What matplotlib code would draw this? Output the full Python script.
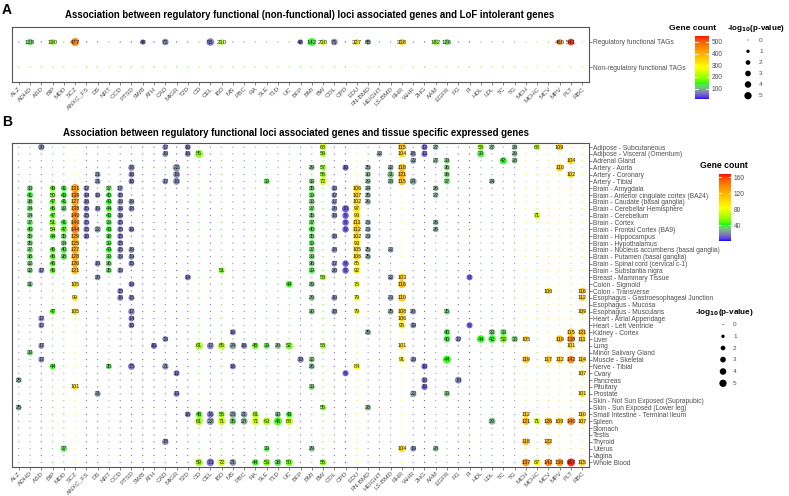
import numpy as np
import matplotlib
matplotlib.use("Agg")
import matplotlib.pyplot as plt
from matplotlib.colors import ListedColormap, Normalize
import matplotlib.colorbar as mcolorbar

plt.rcParams['font.family'] = ['Liberation Sans', 'DejaVu Sans']

# ---------------- data ----------------
traits = ["ALZ", "ADHD", "ASD", "BIP", "MDD", "SCZ", "ANXC_FS", "DS", "NRT", "OCD", "PTSD", "SWB",
          "ATH", "CAD", "MIGR", "T2D", "CD", "CEL", "IBD", "MS", "PBC", "RA", "SLE", "T1D", "UC",
          "BFP", "BMI", "BW", "COL", "CPD", "EDU", "FN-BMD", "HEIGHT", "LS-BMD", "RHR", "WHR",
          "2HG", "AAM", "EGFR", "FG", "FI", "HDL", "LDL", "TC", "TG", "MCH", "MCHC", "MCV", "MPV",
          "PLT", "RBC"]

a_rows = ["Regulatory functional TAGs", "Non-regulatory functional TAGs"]
# background (non-significant) gene counts per trait, panel A
a_bg_reg = [60, 100, 40, 150, 120, 400, 30, 50, 110, 40, 40, 40, 30, 60, 40, 40, 170, 45, 180, 70,
            60, 150, 130, 110, 150, 40, 120, 200, 60, 30, 280, 70, 60, 70, 300, 50, 30, 150, 110,
            40, 30, 130, 90, 110, 100, 380, 230, 420, 400, 470, 380]
a_bg_non = [180, 200, 170, 210, 200, 260, 160, 170, 200, 160, 170, 170, 160, 180, 170, 170, 210, 170,
            220, 180, 180, 210, 200, 200, 210, 170, 200, 220, 180, 160, 240, 190, 180, 190, 250, 180,
            160, 210, 200, 170, 160, 200, 190, 200, 200, 300, 240, 320, 330, 380, 300]
# significant cells, regulatory row
a_sig_traits = ["ADHD", "BIP", "SCZ", "SWB", "CAD", "CEL", "IBD", "BFP", "BMI", "BW", "COL", "EDU",
                "FN-BMD", "RHR", "AAM", "EGFR", "MPV", "PLT"]
a_sig_counts = [128, 190, 477, 48, 73, 55, 210, 46, 142, 230, 71, 327, 85, 338, 182, 126, 460, 541]
a_sig_logp = [4.2, 3.3, 6.0, 2.5, 4.2, 5.4, 2.9, 2.5, 6.2, 3.3, 4.2, 3.3, 2.9, 4.2, 3.3, 3.3, 3.3, 4.2]

tissues = ["Adipose - Subcutaneous", "Adipose - Visceral (Omentum)", "Adrenal Gland", "Artery - Aorta",
           "Artery - Coronary", "Artery - Tibial", "Brain - Amygdala",
           "Brain - Anterior cingulate cortex (BA24)", "Brain - Caudate (basal ganglia)",
           "Brain - Cerebellar Hemisphere", "Brain - Cerebellum", "Brain - Cortex",
           "Brain - Frontal Cortex (BA9)", "Brain - Hippocampus", "Brain - Hypothalamus",
           "Brain - Nucleus accumbens (basal ganglia)", "Brain - Putamen (basal ganglia)",
           "Brain - Spinal cord (cervical c-1)", "Brain - Substantia nigra", "Breast - Mammary Tissue",
           "Colon - Sigmoid", "Colon - Transverse", "Esophagus - Gastroesophageal Junction",
           "Esophagus - Mucosa", "Esophagus - Muscularis", "Heart - Atrial Appendage",
           "Heart - Left Ventricle", "Kidney - Cortex", "Liver", "Lung", "Minor Salivary Gland",
           "Muscle - Skeletal", "Nerve - Tibial", "Ovary", "Pancreas", "Pituitary", "Prostate",
           "Skin - Not Sun Exposed (Suprapubic)", "Skin - Sun Exposed (Lower leg)",
           "Small Intestine - Terminal Ileum", "Spleen", "Stomach", "Testis", "Thyroid", "Uterus",
           "Vagina", "Whole Blood"]

# background (non-significant) gene counts per trait, panel B
b_bg = [20, 25, 12, 35, 30, 90, 10, 14, 30, 11, 11, 10, 8, 13, 10, 10, 40, 12, 45, 17, 15, 35, 30, 25,
        35, 12, 25, 45, 12, 7, 70, 18, 15, 18, 85, 14, 8, 20, 28, 10, 7, 30, 20, 25, 22, 95, 55, 95,
        90, 110, 95]

# significant cells per tissue (same order as tissues)
b_traits = [
    ["ASD", "CAD", "T2D", "BW", "RHR", "2HG", "AAM", "HDL", "LDL", "TG", "MCHC", "MPV"],
    ["CAD", "T2D", "CD", "BW", "HEIGHT", "RHR", "WHR", "2HG", "HDL", "TG"],
    ["WHR", "AAM", "EGFR", "TC", "TG", "PLT"],
    ["PTSD", "MIGR", "BMI", "BW", "CPD", "FN-BMD", "LS-BMD", "RHR", "EGFR", "MPV"],
    ["DS", "PTSD", "MIGR", "BW", "FN-BMD", "LS-BMD", "RHR", "EGFR", "PLT"],
    ["DS", "PTSD", "CAD", "MIGR", "SLE", "BMI", "BW", "FN-BMD", "LS-BMD", "RHR", "WHR", "EGFR", "LDL"],
    ["ADHD", "BIP", "MDD", "SCZ", "ANXC_FS", "NRT", "OCD", "BMI", "COL", "EDU", "FN-BMD", "AAM"],
    ["ADHD", "BIP", "MDD", "SCZ", "ANXC_FS", "DS", "NRT", "OCD", "BMI", "COL", "EDU", "FN-BMD", "AAM"],
    ["ADHD", "BIP", "MDD", "SCZ", "ANXC_FS", "NRT", "OCD", "PTSD", "BMI", "COL", "EDU", "FN-BMD"],
    ["ADHD", "BIP", "MDD", "SCZ", "ANXC_FS", "DS", "NRT", "OCD", "PTSD", "BMI", "COL", "CPD", "EDU"],
    ["ADHD", "BIP", "SCZ", "ANXC_FS", "NRT", "OCD", "BMI", "COL", "CPD", "EDU", "MCHC"],
    ["ADHD", "BIP", "MDD", "SCZ", "ANXC_FS", "NRT", "OCD", "BMI", "CPD", "EDU", "FN-BMD", "AAM"],
    ["ADHD", "BIP", "MDD", "SCZ", "ANXC_FS", "DS", "NRT", "OCD", "PTSD", "BMI", "CPD", "EDU", "FN-BMD", "AAM"],
    ["ADHD", "BIP", "MDD", "SCZ", "ANXC_FS", "NRT", "OCD", "BMI", "COL", "EDU", "FN-BMD"],
    ["ADHD", "MDD", "SCZ", "NRT", "OCD", "BMI", "EDU"],
    ["ADHD", "BIP", "MDD", "SCZ", "NRT", "OCD", "PTSD", "BMI", "COL", "EDU", "FN-BMD", "LS-BMD"],
    ["ADHD", "BIP", "MDD", "SCZ", "NRT", "OCD", "PTSD", "BMI", "EDU", "FN-BMD"],
    ["ADHD", "BIP", "SCZ", "DS", "NRT", "PTSD", "BMI", "COL", "CPD", "EDU"],
    ["ADHD", "ASD", "BIP", "SCZ", "NRT", "OCD", "IBD", "BMI", "COL", "CPD", "EDU"],
    ["DS", "T2D", "BW", "LS-BMD", "RHR", "FI"],
    ["ADHD", "SCZ", "PTSD", "UC", "BMI", "EDU", "RHR"],
    ["OCD", "MCV", "RBC"],
    ["SCZ", "OCD", "PTSD", "BMI", "COL", "EDU", "LS-BMD", "RHR", "RBC"],
    [],
    ["BIP", "SCZ", "PTSD", "BMI", "COL", "EDU", "LS-BMD", "RHR", "WHR", "EGFR", "RBC"],
    ["ASD", "PTSD", "RHR"],
    ["ASD", "PTSD", "RHR", "WHR", "FI"],
    ["MS", "FN-BMD", "EGFR", "LDL", "TC", "PLT", "RBC"],
    ["CAD", "EGFR", "FG", "HDL", "LDL", "TC", "TG", "MCH", "MPV", "PLT", "RBC"],
    ["ASD", "ATH", "CD", "CEL", "IBD", "MS", "PBC", "RA", "SLE", "T1D", "UC", "BW", "RHR", "PLT"],
    ["ADHD"],
    ["ASD", "BFP", "BMI", "RHR", "WHR", "EGFR", "MCH", "MCV", "MPV", "PLT", "RBC"],
    ["BIP", "NRT", "PTSD", "CAD", "MS", "BMI", "EDU", "2HG"],
    ["MIGR", "CPD", "RBC"],
    ["ALZ", "2HG", "FG"],
    ["SCZ", "BMI", "2HG"],
    ["DS", "MIGR", "WHR", "EGFR", "RBC"],
    [],
    ["ALZ", "BW", "FN-BMD"],
    ["T2D", "CD", "CEL", "IBD", "MS", "PBC", "RA", "T1D", "UC", "MCH", "RBC"],
    ["CD", "CEL", "IBD", "MS", "PBC", "RA", "SLE", "T1D", "UC", "LDL", "MCH", "MCHC", "MCV", "MPV", "PLT", "RBC"],
    [],
    [],
    ["CAD", "MCH", "MCV"],
    ["MDD", "SLE", "BMI", "RHR", "WHR", "AAM"],
    [],
    ["CD", "CEL", "IBD", "MS", "RA", "SLE", "T1D", "UC", "BW", "MCH", "MCHC", "MCV", "MPV", "PLT", "RBC"],
]
b_counts = [
    [20, 17, 16, 68, 115, 12, 27, 58, 27, 28, 68, 109],
    [19, 16, 55, 59, 22, 104, 18, 12, 39, 29],
    [22, 27, 33, 42, 28, 104],
    [18, 22, 29, 57, 10, 25, 22, 118, 36, 110],
    [21, 16, 19, 56, 30, 31, 121, 36, 102],
    [21, 16, 17, 19, 39, 33, 72, 29, 28, 115, 24, 37, 24],
    [33, 49, 41, 131, 17, 37, 17, 35, 19, 106, 24, 26],
    [41, 50, 43, 139, 14, 19, 40, 15, 39, 17, 107, 25, 27],
    [38, 47, 41, 127, 16, 43, 19, 19, 33, 17, 102, 26],
    [34, 46, 32, 138, 15, 19, 44, 16, 18, 37, 20, 10, 97],
    [34, 47, 140, 15, 42, 16, 35, 18, 9, 93, 71],
    [37, 51, 41, 140, 15, 39, 15, 37, 9, 111, 23, 26],
    [40, 54, 47, 144, 15, 22, 43, 15, 16, 40, 9, 112, 23, 26],
    [35, 44, 35, 129, 16, 38, 15, 35, 18, 102, 23],
    [35, 34, 125, 39, 15, 39, 93],
    [37, 46, 40, 127, 43, 15, 19, 37, 18, 105, 25, 22],
    [38, 46, 38, 128, 39, 19, 19, 33, 106, 25],
    [32, 46, 126, 18, 36, 15, 36, 17, 9, 85],
    [32, 17, 46, 121, 35, 19, 51, 39, 20, 9, 92],
    [20, 14, 58, 22, 103, 9],
    [31, 105, 14, 44, 29, 75, 116],
    [15, 106, 116],
    [99, 16, 15, 29, 19, 79, 23, 110, 112],
    [],
    [47, 105, 17, 30, 18, 79, 25, 108, 20, 35, 109],
    [17, 14, 106],
    [17, 16, 95, 19, 9],
    [16, 25, 40, 33, 39, 115, 121],
    [19, 40, 17, 44, 42, 52, 33, 105, 119, 138, 111],
    [17, 10, 61, 17, 65, 24, 16, 48, 39, 29, 52, 58, 101, 101],
    [33],
    [17, 19, 32, 91, 19, 44, 119, 117, 112, 142, 114],
    [44, 35, 15, 21, 16, 26, 84, 10],
    [12, 9, 107],
    [25, 16, 18],
    [101, 33, 10],
    [21, 13, 22, 33, 101],
    [],
    [25, 55, 28],
    [16, 46, 16, 56, 23, 21, 61, 30, 43, 112, 110],
    [61, 22, 71, 35, 28, 71, 63, 46, 68, 29, 121, 71, 126, 109, 140, 107],
    [],
    [],
    [18, 118, 122],
    [37, 39, 29, 104, 19, 28],
    [],
    [59, 13, 72, 21, 44, 53, 38, 50, 55, 137, 87, 142, 136, 167, 115],
]
b_logp = [
    [4, 3.3, 3.3, 4.5, 5.5, 3.5, 3, 4, 3, 3, 3.5, 4.5],
    [3.3, 3.3, 6, 3.5, 3, 4.5, 3.3, 3.5, 5, 3],
    [3.3, 3, 3, 5, 3, 4.5],
    [4, 5.5, 3, 3.5, 3.5, 3, 3, 5.5, 3, 5],
    [3.3, 3.3, 4.5, 3.5, 3, 4.5, 6, 3, 4.5],
    [3.3, 3.3, 3.3, 4.5, 3.5, 3, 5, 3, 3.5, 5.5, 4.5, 3.5, 3],
    [3.3, 3.3, 3.3, 7, 3.3, 3.3, 3.3, 3.3, 3.3, 5.5, 3, 3],
    [4, 3.3, 3.3, 5.5, 3, 3, 3.3, 3, 3.5, 3, 5, 3, 3],
    [3.3, 3.3, 3.3, 5.5, 3.3, 3.3, 3.3, 3.3, 3.3, 3, 5, 3],
    [3.3, 3.3, 3.3, 5.5, 3.3, 3.3, 3.3, 3.3, 3.3, 3.3, 3.3, 5, 5],
    [3.3, 3.3, 6, 3.3, 3.3, 3.3, 3.3, 3.3, 4, 5, 4],
    [3.3, 4, 4, 6.5, 3.3, 3.3, 3.3, 3.3, 4, 5.5, 3, 3],
    [4, 3.5, 4, 6.5, 3.3, 4, 3.3, 3.3, 3.3, 4, 4, 5.5, 3, 3],
    [3.3, 3.3, 3.3, 5.5, 3.3, 3.3, 3.3, 3.3, 3.3, 4.5, 3],
    [3.3, 3.3, 6, 3.3, 3.3, 3.3, 5],
    [3.3, 3.3, 4, 6, 3.3, 3.3, 3.3, 3.3, 3.3, 4.5, 3, 3],
    [3.3, 3.3, 4, 5.5, 3.3, 3.3, 3.3, 3.3, 4.5, 3],
    [3.3, 3.3, 5.5, 3.3, 3.3, 3.3, 3.3, 3.3, 4, 4],
    [3.3, 3.3, 3.3, 5.5, 3.3, 3.3, 3.3, 4, 3.3, 4, 4.5],
    [3.3, 3.3, 3.3, 3.3, 4.5, 3.5],
    [3.3, 4, 3.3, 4, 3.3, 3.3, 6],
    [3.3, 4, 4],
    [3.3, 3.3, 3.3, 3.3, 3.3, 3.3, 3.3, 5.5, 3.5],
    [],
    [3.3, 4, 4, 3.3, 3.3, 3.3, 3.3, 5, 3.3, 3.3, 3.5],
    [3.3, 3.3, 4],
    [3.3, 3.3, 4, 3.3, 3.5],
    [3.3, 3.3, 4, 4, 4, 5, 5],
    [3.3, 4.5, 3.3, 5.5, 5.5, 5.5, 4, 3.5, 5, 5.5, 4],
    [3.3, 3.5, 5.5, 4.5, 5, 4.5, 3.5, 4, 3.5, 3.5, 5, 3.3, 4, 4],
    [3.3],
    [3.3, 4, 3.3, 3.5, 3.3, 6, 4.5, 4.5, 4.5, 5.5, 4],
    [3.3, 3.3, 4.5, 4, 3.3, 3.3, 4, 3.5],
    [3.3, 3.5, 3.5],
    [3.3, 3.5, 4.5],
    [3.3, 3.3, 3.5],
    [3.5, 3.3, 4, 3.3, 4],
    [],
    [3.3, 3.3, 3.3],
    [3.3, 4, 4.5, 4, 4.5, 4, 4.5, 3.3, 3.3, 3.5, 3.5],
    [5.5, 5.5, 5.5, 4.5, 4.5, 5.5, 5.5, 6.5, 5.5, 4.5, 5, 4, 5, 4.5, 5.5, 4],
    [],
    [],
    [4, 4.5, 4],
    [4, 3.3, 3.3, 4.5, 3.3, 3.3],
    [],
    [5.5, 5.5, 5, 4.5, 4, 5, 5, 5, 4, 5.5, 5, 5.5, 5.5, 6, 4.5],
]

a_cbar_ticks = [100, 200, 300, 400, 500]
b_cbar_ticks = [40, 80, 120, 160]
size_legend = [0, 1, 2, 3, 4, 5]

# ---------------- colour map (CIELAB interpolation like ggplot) ----------------
def _srgb_to_lab(rgb):
    rgb = np.asarray(rgb, float)
    lin = np.where(rgb <= 0.04045, rgb / 12.92, ((rgb + 0.055) / 1.055) ** 2.4)
    M = np.array([[0.4124, 0.3576, 0.1805], [0.2126, 0.7152, 0.0722], [0.0193, 0.1192, 0.9505]])
    xyz = M @ lin / np.array([0.95047, 1.0, 1.08883])
    d = 6 / 29
    f = np.where(xyz > d ** 3, np.cbrt(xyz), xyz / (3 * d * d) + 4 / 29)
    return np.array([116 * f[1] - 16, 500 * (f[0] - f[1]), 200 * (f[1] - f[2])])

def _lab_to_srgb(lab):
    L, a, b = lab
    d = 6 / 29
    fy = (L + 16) / 116
    fx = fy + a / 500
    fz = fy - b / 200
    f = np.array([fx, fy, fz])
    xyz = np.where(f > d, f ** 3, 3 * d * d * (f - 4 / 29)) * np.array([0.95047, 1.0, 1.08883])
    Minv = np.linalg.inv(np.array([[0.4124, 0.3576, 0.1805], [0.2126, 0.7152, 0.0722],
                                   [0.0193, 0.1192, 0.9505]]))
    lin = np.clip(Minv @ xyz, 0, 1)
    rgb = np.where(lin <= 0.0031308, 12.92 * lin, 1.055 * lin ** (1 / 2.4) - 0.055)
    return np.clip(rgb, 0, 1)

stops = [(0, 0, 1), (0, 1, 0), (1, 1, 0), (1, 0.647, 0), (1, 0, 0)]
labs = [_srgb_to_lab(c) for c in stops]
cols = []
for t in np.linspace(0, 1, 256):
    seg = min(int(t * 4), 3)
    u = t * 4 - seg
    cols.append(_lab_to_srgb(labs[seg] * (1 - u) + labs[seg + 1] * u))
cmap = ListedColormap(cols)

def sz(v):
    return 0.5184 * (1 + 10.4 * np.asarray(v, float))

# ---------------- figure ----------------
W, H = 789, 496
fig = plt.figure(figsize=(W / 100, H / 100), dpi=100)

def rect(l, t, r, b):
    return [l / W, 1 - b / H, (r - l) / W, (b - t) / H]

GRAY = "#4d4d4d"
SP = "#555555"

def style_axes(ax):
    for s in ax.spines.values():
        s.set_color(SP)
        s.set_linewidth(0.8)
    ax.set_facecolor("white")
    ax.tick_params(axis='both', length=2, width=0.5, color=SP, pad=1)
    ax.set_xticks(range(len(traits)))
    ax.set_xticklabels(traits, rotation=45, ha='right', rotation_mode='anchor',
                       fontsize=4.6, color=GRAY)
    ax.set_xlim(-0.6, len(traits) - 0.4)
    ax.yaxis.tick_right()

# ---- Panel A ----
normA = Normalize(vmin=10, vmax=551)
axA = fig.add_axes(rect(12, 27, 589, 82))
style_axes(axA)
xs = np.arange(len(traits))
axA.scatter(xs, np.zeros(len(traits)), s=sz(0) * 1.6, c=a_bg_reg, cmap=cmap, norm=normA,
            linewidths=0, zorder=2)
axA.scatter(xs, np.ones(len(traits)), s=sz(0) * 1.6, c=a_bg_non, cmap=cmap, norm=normA,
            linewidths=0, zorder=2)
ax_idx = [traits.index(t) for t in a_sig_traits]
axA.scatter(ax_idx, np.zeros(len(ax_idx)), s=sz(a_sig_logp), c=a_sig_counts, cmap=cmap,
            norm=normA, linewidths=0, alpha=0.9, zorder=3)
for xi, cnt in zip(ax_idx, a_sig_counts):
    axA.text(xi, 0, str(cnt), ha='center', va='center', fontsize=4.3, color="#222222", zorder=4)
axA.set_ylim(1.6, -0.6)
axA.set_yticks([0, 1])
axA.set_yticklabels(a_rows, fontsize=4.8, color=GRAY)

# ---- Panel B ----
normB = Normalize(vmin=1, vmax=168)
axB = fig.add_axes(rect(12, 143, 589, 466.5))
style_axes(axB)
nT = len(tissues)
gx, gy = np.meshgrid(np.arange(len(traits)), np.arange(nT))
bgc = np.tile(np.array(b_bg, float), (nT, 1))
axB.scatter(gx.ravel(), gy.ravel(), s=sz(0) * 1.4, c=bgc.ravel(), cmap=cmap, norm=normB,
            linewidths=0, zorder=2)
px, py, pc, pl = [], [], [], []
for ti in range(nT):
    for tr, cnt, lp in zip(b_traits[ti], b_counts[ti], b_logp[ti]):
        px.append(traits.index(tr)); py.append(ti); pc.append(cnt); pl.append(lp)
axB.scatter(px, py, s=sz(pl), c=pc, cmap=cmap, norm=normB, linewidths=0, alpha=0.9, zorder=3)
for x_, y_, c_ in zip(px, py, pc):
    axB.text(x_, y_, str(c_), ha='center', va='center', fontsize=4.0, color="#222222", zorder=4)
axB.set_ylim(nT - 0.4, -0.6)
axB.set_yticks(range(nT))
axB.set_yticklabels(tissues, fontsize=4.8, color=GRAY)

# ---- overlay for titles, legends ----
ov = fig.add_axes([0, 0, 1, 1], facecolor='none')
ov.set_xlim(0, W)
ov.set_ylim(H, 0)
ov.axis('off')

ov.text(2, 3, "A", fontsize=10, fontweight='bold', va='top', ha='left')
ov.text(310, 14.5, "Association between regulatory functional (non-functional) loci associated genes and LoF intolerant genes",
        fontsize=6.9, fontweight='bold', ha='center', va='center')
ov.text(2, 115, "B", fontsize=10, fontweight='bold', va='top', ha='left')
ov.text(296, 132.5, "Association between regulatory functional loci associated genes and tissue specific expressed genes",
        fontsize=6.9, fontweight='bold', ha='center', va='center')

def colorbar(l, t, r, b, norm, ticks):
    cax = fig.add_axes(rect(l, t, r, b))
    cb = mcolorbar.ColorbarBase(cax, cmap=cmap, norm=norm, orientation='vertical')
    cb.outline.set_visible(False)
    cb.set_ticks(ticks)
    cax.tick_params(length=0, labelsize=4.8, labelcolor=GRAY, pad=2)
    for tk in ticks:
        cax.plot([0, 0.2], [tk, tk], color='white', lw=0.6, transform=cax.get_yaxis_transform())
        cax.plot([0.8, 1.0], [tk, tk], color='white', lw=0.6, transform=cax.get_yaxis_transform())
    return cax

# Panel A legends
ov.text(693, 28.5, "Gene count", fontsize=6.1, fontweight='bold', ha='center', va='center')
colorbar(695, 36, 709, 99, normA, a_cbar_ticks)
ov.text(756, 28.5, r"-log$_{\mathbf{10}}$(p-value)", fontsize=5.8, fontweight='bold', ha='center', va='center')
ya = [40, 51.3, 62.5, 73.5, 84.5, 95.7]
ov.scatter([748] * 6, ya, s=sz(size_legend), c='black', linewidths=0)
for yv, v in zip(ya, size_legend):
    ov.text(759, yv, str(v), fontsize=4.6, color=GRAY, va='center', ha='left')

# Panel B legends
ov.text(723.5, 165.5, "Gene count", fontsize=6.2, fontweight='bold', ha='center', va='center')
colorbar(719, 174, 731, 241, normB, b_cbar_ticks)
ov.text(724, 312, r"-log$_{\mathbf{10}}$(p-value)", fontsize=5.9, fontweight='bold', ha='center', va='center')
yb = [324.5, 336.3, 348, 359.6, 371.5, 383.3]
ov.scatter([723] * 6, yb, s=sz(size_legend), c='black', linewidths=0)
for yv, v in zip(yb, size_legend):
    ov.text(733, yv, str(v), fontsize=4.6, color=GRAY, va='center', ha='left')

fig.savefig("out.png", dpi=100)
